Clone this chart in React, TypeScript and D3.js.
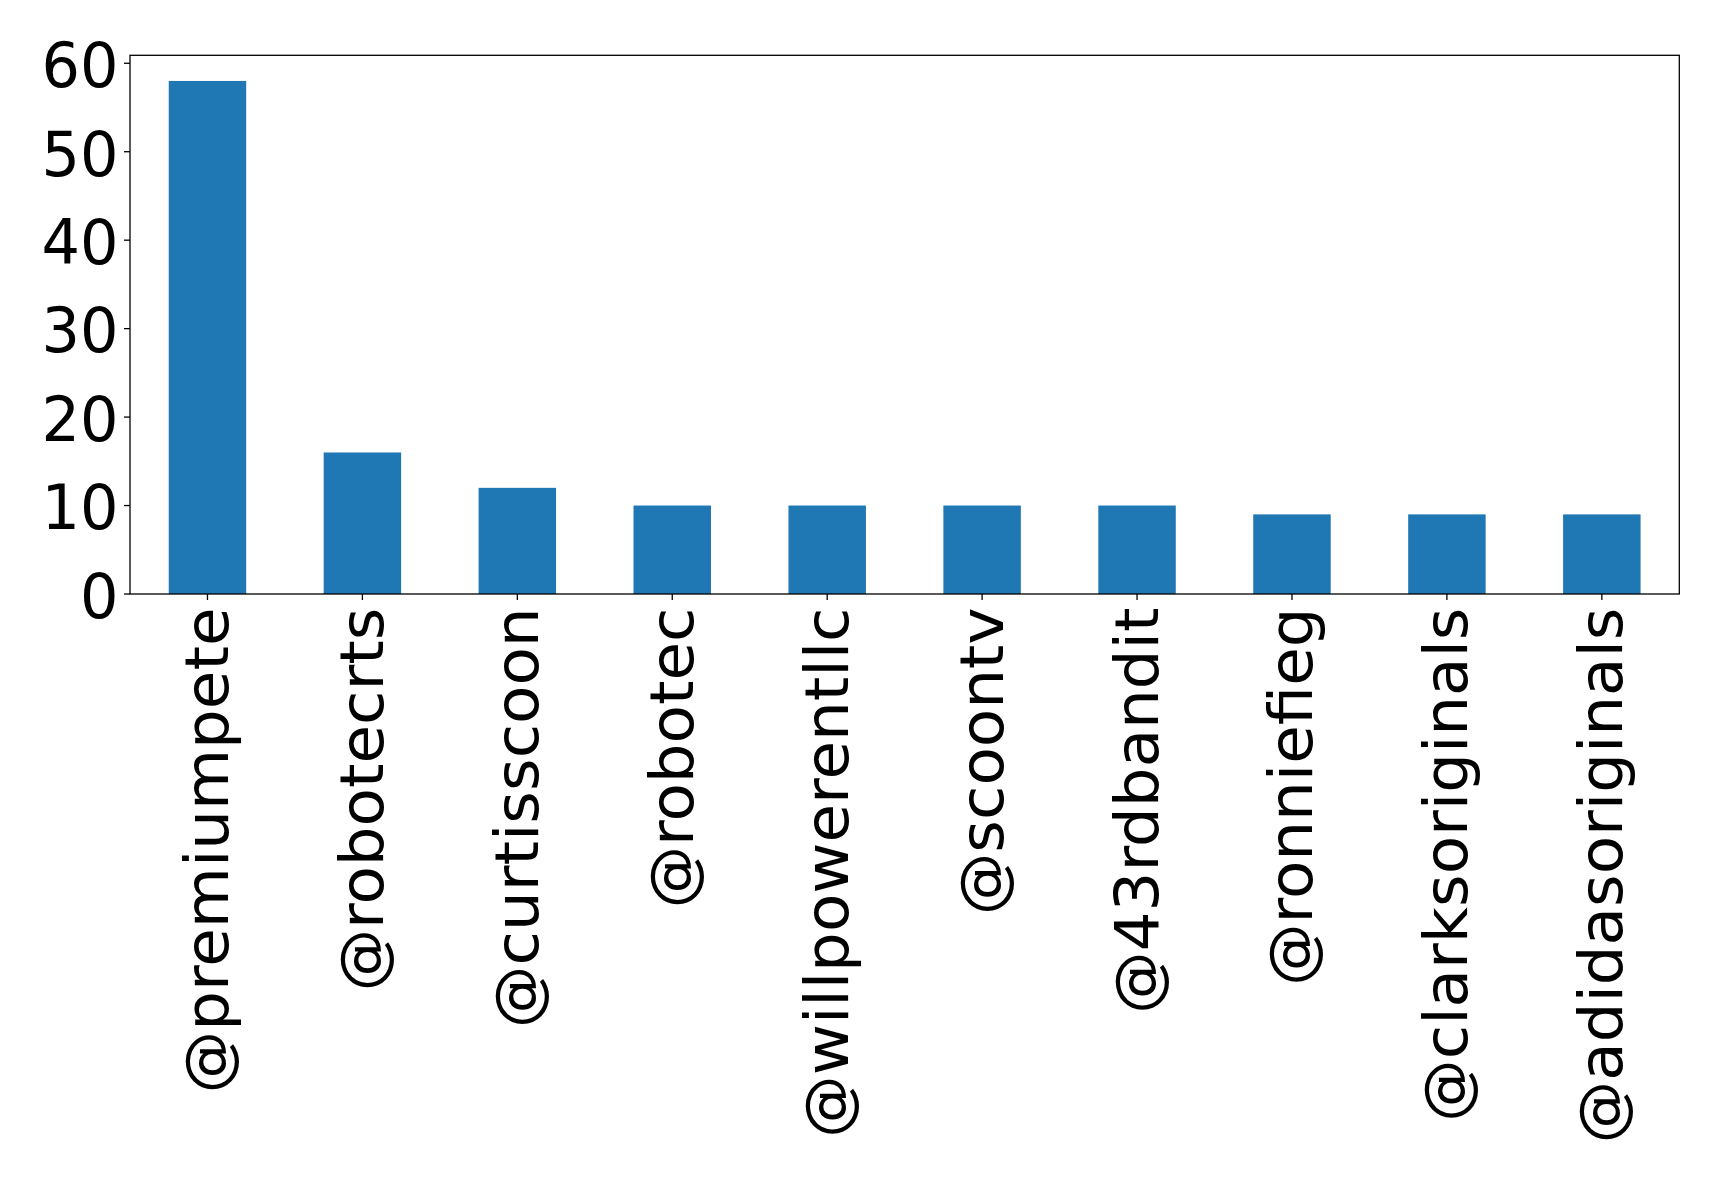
import React from "react";
import * as d3 from "d3";

const handles = [
  "@premiumpete",
  "@robotecrts",
  "@curtisscoon",
  "@robotec",
  "@willpowerentllc",
  "@scoontv",
  "@43rdbandit",
  "@ronniefieg",
  "@clarksoriginals",
  "@adidasoriginals",
];
const counts = [58, 16, 12, 10, 10, 10, 10, 9, 9, 9];
const yTicks = [0, 10, 20, 30, 40, 50, 60];

const W = 1719;
const H = 1178;
const left = 130;
const right = 1679.3;
const top = 55.3;
const bottom = 594;
const fontSize = 60.5;
// glyphs are drawn slightly taller than wide
const stretchY = 1.036;
const font = "DejaVu Sans, sans-serif";

export default function App() {
  const x = d3.scaleBand<string>().domain(handles).range([left, right]).paddingInner(0.5).paddingOuter(0.25);
  const y = d3.scaleLinear().domain([0, d3.max(counts)! * 1.05]).range([bottom, top]);

  return (
    <svg width={W} height={H} style={{ position: "absolute", left: 0, top: 0, background: "#fff" }}>
      {handles.map((h, i) => (
        <rect
          key={h}
          x={x(h)!}
          y={y(counts[i])}
          width={x.bandwidth()}
          height={y(0) - y(counts[i])}
          fill="#1f77b4"
        />
      ))}
      <rect x={left} y={top} width={right - left} height={bottom - top} fill="none" stroke="#000" strokeWidth={1.3} />
      {yTicks.map((t) => (
        <g key={t}>
          <line x1={left - 6} x2={left} y1={y(t)} y2={y(t)} stroke="#000" strokeWidth={1.3} />
          <text
            transform={`translate(${left - 11.5},${y(t) + 1}) scale(1,${stretchY})`}
            y={0.3645 * fontSize}
            textAnchor="end"
            fontFamily={font}
            fontSize={fontSize}
            fill="#000"
          >
            {t}
          </text>
        </g>
      ))}
      {handles.map((h) => {
        const cx = x(h)! + x.bandwidth() / 2;
        return (
          <g key={h}>
            <line x1={cx} x2={cx} y1={bottom} y2={bottom + 6} stroke="#000" strokeWidth={1.3} />
            <text
              transform={`translate(${cx},${bottom + 13.5}) scale(1,${stretchY}) rotate(-90)`}
              y={20.5}
              textAnchor="end"
              fontFamily={font}
              fontSize={fontSize}
              fill="#000"
            >
              {h}
            </text>
          </g>
        );
      })}
    </svg>
  );
}
